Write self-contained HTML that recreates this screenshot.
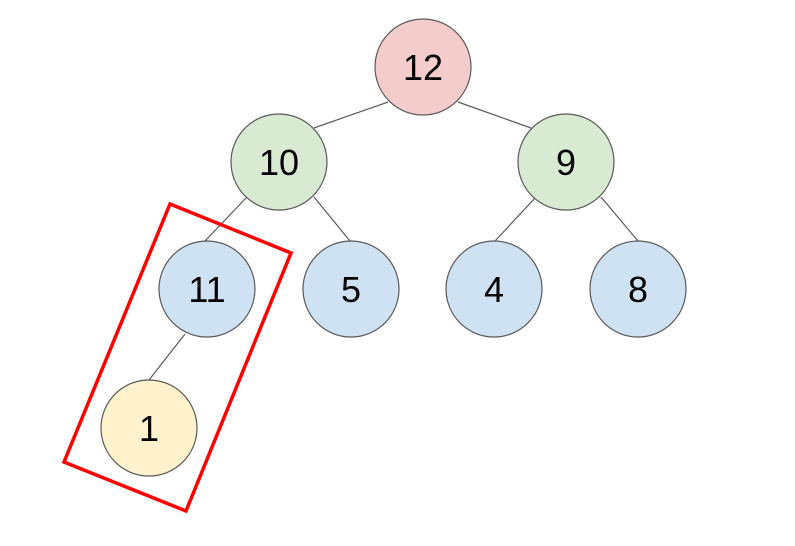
<!DOCTYPE html>
<html><head><meta charset="utf-8"><style>html,body{margin:0;padding:0;background:#fff}</style></head>
<body>
<svg width="795" height="541" viewBox="0 0 795 541" xmlns="http://www.w3.org/2000/svg">
<g stroke="#595959" stroke-width="1.2">
<line x1="388" y1="102" x2="314" y2="128"/>
<line x1="458" y1="102" x2="531" y2="128"/>
<line x1="246" y1="198" x2="205" y2="241"/>
<line x1="314" y1="197" x2="350" y2="241"/>
<line x1="535" y1="198" x2="495" y2="241"/>
<line x1="601" y1="197" x2="638" y2="241"/>
<line x1="185" y1="334" x2="149" y2="380"/>
</g>
<g stroke="#595959" stroke-width="1.2">
<circle cx="423" cy="67" r="48" fill="#f4cccc"/>
<circle cx="279" cy="162" r="48" fill="#d9ead3"/>
<circle cx="566" cy="162" r="48" fill="#d9ead3"/>
<circle cx="207" cy="289" r="48" fill="#cfe2f3"/>
<circle cx="351" cy="289" r="48" fill="#cfe2f3"/>
<circle cx="494" cy="289" r="48" fill="#cfe2f3"/>
<circle cx="638" cy="289" r="48" fill="#cfe2f3"/>
<circle cx="149" cy="428" r="48" fill="#fff2cc"/>
</g>
<g font-family="Liberation Sans, sans-serif" font-size="36" text-anchor="middle" fill="#000">
<text x="423" y="80">12</text>
<text x="279" y="175">10</text>
<text x="566" y="175">9</text>
<text x="207" y="302">11</text>
<text x="351" y="302">5</text>
<text x="494" y="302">4</text>
<text x="638" y="302">8</text>
<text x="149" y="441">1</text>
</g>
<polygon points="170,204 291,253 186,511 64,462" fill="none" stroke="#ff0000" stroke-width="3.5"/>
</svg>
</body></html>
